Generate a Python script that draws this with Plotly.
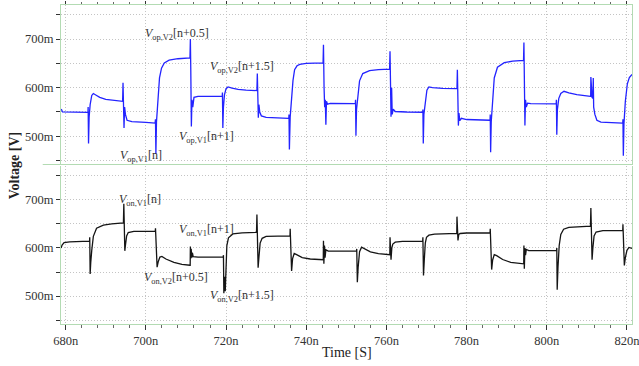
import plotly.graph_objects as go

# ---------------- data (time in ns, voltage in mV) ----------------
# top: V_op (blue)
top_t = [678.9, 679.2, 685.5,
         685.55, 685.6, 685.7, 685.85, 686.1, 686.5, 686.9, 687.5, 688.5, 690, 692, 694.2,
         694.3, 694.4, 694.55, 694.7, 694.9, 695.3, 696.5, 700, 702.3,
         702.4, 702.5, 702.65, 703.0, 703.4, 703.9, 704.6, 705.8, 708, 711.0,
         711.1, 711.2, 711.35, 711.5, 711.7, 712.0, 713, 719.0,
         719.05, 719.1, 719.2, 719.35, 719.6, 720.0, 720.5, 721.5, 723, 725, 727.7,
         727.8, 727.9, 728.05, 728.2, 728.4, 728.8, 730, 735.6,
         735.65, 735.7, 735.8, 736.0, 736.3, 736.7, 737.1, 737.7, 738.4, 740, 744.2,
         744.3, 744.45, 744.6, 744.75, 744.9, 745.05, 745.3, 746, 752.2,
         752.25, 752.3, 752.4, 752.55, 752.9, 753.3, 754.1, 755.8, 758, 760.8,
         760.9, 761.0, 761.15, 761.3, 761.45, 761.7, 762.2, 765, 769.0,
         769.05, 769.1, 769.2, 769.35, 769.7, 770.1, 770.6, 771.5, 774, 777.6,
         777.7, 777.8, 777.95, 778.1, 778.3, 778.7, 780, 785.8,
         785.85, 785.9, 786.0, 786.15, 786.5, 786.9, 787.7, 789.4, 791.5, 794.2,
         794.3, 794.4, 794.55, 794.7, 794.9, 795.2, 796, 802.3,
         802.35, 802.4, 802.5, 802.65, 803.0, 803.5, 804.3, 805.5, 807.5, 810.9,
         810.95, 811.0, 811.1, 811.3, 811.5, 811.6, 811.7, 812.0, 812.5, 813.5, 818.9,
         818.95, 819.0, 819.1, 819.25, 819.6, 820.1, 820.6, 821.26]
top_v = [556, 550, 549,
         549, 560, 485, 540, 565, 584, 588, 585, 580, 576, 573.5, 572,
         610, 570, 517, 560, 545, 533, 530, 528.5, 527,
         535, 464, 530, 585, 620, 640, 651, 656.5, 659.5, 661,
         700, 640, 520, 575, 560, 580, 582, 582,
         582, 590, 517, 560, 585, 598, 601.5, 599, 596.5, 595, 594,
         629, 590, 538, 565, 550, 542, 539, 537,
         537, 545, 473, 540, 575, 615, 637, 645, 648, 650, 651,
         688, 600, 560, 575, 524, 572, 566, 567.5, 567,
         567, 575, 501, 555, 590, 614, 629, 635, 637, 638,
         675, 600, 540, 600, 545, 556, 551, 550, 549.5,
         549.5, 555, 485, 545, 575, 595, 601.5, 600, 598.5, 598,
         637, 590, 522, 548, 532, 537, 534.5, 533,
         533, 545, 467, 530, 585, 620, 642, 651.5, 654.5, 656,
         693, 620, 522, 575, 560, 568, 567, 566.5,
         566.5, 575, 503, 555, 578, 588, 592.5, 589.5, 585.5, 582,
         582, 622, 585, 580, 578, 620, 560, 545, 533, 529, 527,
         527, 535, 460, 525, 572, 608, 621, 627]

# bottom: V_on (black)
bot_t = [678.85, 679.1, 679.6, 681, 685.9,
         685.95, 686.0, 686.1, 686.25, 686.5, 686.9, 687.7, 689.4, 691.5, 694.4,
         694.5, 694.6, 694.75, 694.9, 695.2, 695.6, 697, 702.3,
         702.35, 702.4, 702.55, 702.8, 703.1, 703.5, 704.0, 705, 707, 709, 711.0,
         711.05, 711.1, 711.2, 711.3, 711.45, 711.6, 711.8, 713, 719.3,
         719.35, 719.45, 719.6, 719.8, 719.95, 720.2, 720.6, 721.7, 724, 727.6,
         727.7, 727.8, 728.0, 728.2, 728.5, 729, 730, 735.9,
         735.95, 736.0, 736.15, 736.35, 736.6, 737.0, 737.6, 739, 741, 744.2,
         744.25, 744.3, 744.4, 744.55, 744.7, 744.9, 745.5, 752.5,
         752.55, 752.6, 752.75, 752.95, 753.3, 753.8, 754.5, 756, 758, 760.8,
         760.85, 760.9, 761.0, 761.15, 761.35, 761.6, 762.2, 764, 769.0,
         769.05, 769.1, 769.25, 769.45, 769.7, 770.0, 770.6, 772, 777.5,
         777.55, 777.6, 777.7, 777.85, 778.05, 778.4, 780, 785.8,
         785.85, 785.9, 786.05, 786.25, 786.5, 786.9, 787.5, 789, 791, 794.2,
         794.25, 794.3, 794.4, 794.55, 794.7, 794.9, 795.5, 802.4,
         802.45, 802.5, 802.6, 802.8, 803.1, 803.5, 804.2, 805.5, 808, 810.9,
         811.0, 811.1, 811.3, 811.5, 811.8, 812.3, 814, 818.9,
         818.95, 819.0, 819.15, 819.35, 819.6, 820.0, 820.5, 821.26]
bot_v = [600, 606, 611, 612.5, 614,
         614, 622, 546, 570, 595, 624, 641, 647.5, 650, 652,
         692, 640, 594, 605, 625, 632, 634.5, 635,
         635, 641, 600, 560, 572, 581, 582.5, 577, 570, 566, 564,
         564, 603, 578, 598, 580, 590, 582, 581, 581,
         585, 506, 540, 510, 570, 605, 621, 629, 631.5, 632.5,
         669.5, 630, 559, 580, 610, 620, 624, 625,
         625, 640, 600, 552, 578, 588.5, 586, 580, 577, 575.5,
         575.5, 615, 567, 605, 580, 596, 593.5, 593.5,
         593.5, 598, 529, 560, 592, 601.5, 598, 592, 588, 586,
         586, 622, 590, 575.5, 600, 608, 612, 613.5, 614,
         614, 622, 543, 575, 610, 622, 626.5, 628.5, 630,
         630, 665, 640, 615.5, 628, 630, 631, 631,
         631, 640, 600, 555, 575, 586, 584, 576, 570, 567,
         567, 605, 557, 600, 585, 597, 594.5, 595,
         595, 600, 513, 560, 605, 628, 639, 642.5, 644.5, 645.5,
         683, 640, 575.5, 600, 625, 633, 636, 636.5,
         636.5, 649, 600, 563.5, 580, 595, 601, 599]

x_ticks = [680, 700, 720, 740, 760, 780, 800, 820]
x_labels = ["680n", "700n", "720n", "740n", "760n", "780n", "800n", "820n"]
y_ticks = [500, 600, 700]
y_labels = ["500m", "600m", "700m"]

# annotation labels (text, x ns, y mV, subplot)
lab_text = ["<i>V</i><sub>op,V2</sub>[n+0.5]", "<i>V</i><sub>op,V2</sub>[n+1.5]",
            "<i>V</i><sub>op,V1</sub>[n+1]", "<i>V</i><sub>op,V1</sub>[n]",
            "<i>V</i><sub>on,V1</sub>[n]", "<i>V</i><sub>on,V1</sub>[n+1]",
            "<i>V</i><sub>on,V2</sub>[n+0.5]", "<i>V</i><sub>on,V2</sub>[n+1.5]"]
lab_x = [707.7, 723.9, 715.2, 698.8, 698.5, 715.2, 707.5, 723.9]
lab_y = [711, 643, 499, 460, 700, 638, 537, 500]
lab_ax = ["y", "y", "y", "y", "y2", "y2", "y2", "y2"]

# ---------------- figure ----------------
FONT = "Liberation Serif, Times New Roman, serif"
GREEN = "#b3dbb3"
GRID = "#c4c4c4"
XR = [678.83, 821.26]
YR = [442, 770]

fig = go.Figure()
fig.add_trace(go.Scatter(x=top_t, y=top_v, mode="lines", xaxis="x2", yaxis="y",
                         line=dict(color="#2323ff", width=1.3), showlegend=False))
fig.add_trace(go.Scatter(x=bot_t, y=bot_v, mode="lines", xaxis="x", yaxis="y2",
                         line=dict(color="#151515", width=1.3), showlegend=False))


def xaxis_style():
    return dict(range=XR, tickmode="array", tickvals=x_ticks, ticktext=x_labels,
                showgrid=True, gridcolor=GRID, griddash="1px,2px", gridwidth=1,
                showline=True, linecolor=GREEN, linewidth=1, ticks="outside",
                tickcolor="#333", ticklen=5, zeroline=False,
                ticklabeloverflow="allow",
                tickfont=dict(family=FONT, size=12.5, color="#333"),
                minor=dict(dtick=4, tick0=680, ticks="outside", ticklen=2.5,
                           tickcolor="#666", showgrid=False))


def yaxis_style():
    return dict(range=YR, tickmode="array", tickvals=y_ticks, ticktext=y_labels,
                showgrid=True, gridcolor=GRID, griddash="1px,2px", gridwidth=1,
                showline=True, linecolor=GREEN, linewidth=1, mirror=True,
                ticks="outside", tickcolor="#333", ticklen=4, zeroline=False,
                tickfont=dict(family=FONT, size=12.5, color="#333"),
                minor=dict(dtick=50, tick0=450, ticks="outside", ticklen=4,
                           tickcolor="#333", showgrid=True, gridcolor=GRID,
                           griddash="1px,2px"))


fig.update_layout(
    template="none",
    width=639, height=366,
    margin=dict(l=61, r=7, t=5, b=42),
    font=dict(family=FONT, color="#222"),
    paper_bgcolor="white", plot_bgcolor="white",
    xaxis=dict(**xaxis_style(), anchor="y2", domain=[0, 1]),
    xaxis2=dict(**xaxis_style(), anchor="y", side="top", matches="x",
                showticklabels=False),
    yaxis=dict(**yaxis_style(), anchor="x2", domain=[0.5, 1]),
    yaxis2=dict(**yaxis_style(), anchor="x", domain=[0, 0.495]),
)
fig.update_layout(xaxis2=dict(ticklen=3))

annots = []
for t, x, y, ax in zip(lab_text, lab_x, lab_y, lab_ax):
    annots.append(dict(text=t, x=x, y=y, xref="x", yref=ax, showarrow=False,
                       xanchor="center", yanchor="middle",
                       font=dict(family=FONT, size=12, color="#333")))
annots.append(dict(text="<b>Voltage [V]</b>", x=-0.082, y=0.498, xref="paper",
                   yref="paper", textangle=-90, showarrow=False,
                   xanchor="center", yanchor="middle",
                   font=dict(family=FONT, size=14, color="#222")))
annots.append(dict(text="Time [S]", x=0.501, y=-0.09, xref="paper",
                   yref="paper", showarrow=False, xanchor="center",
                   yanchor="middle", font=dict(family=FONT, size=14, color="#222")))
fig.update_layout(annotations=annots)

# separator line between the two panels
fig.add_shape(type="line", xref="paper", yref="paper", x0=-0.032, x1=1,
              y0=0.5, y1=0.5, line=dict(color=GREEN, width=1.2))

fig.write_html("out.html", config={"displayModeBar": False},
               post_script="document.body.style.margin='0';document.body.style.overflow='hidden';")
